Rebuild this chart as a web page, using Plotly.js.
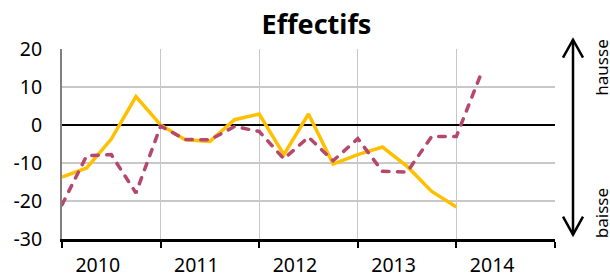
<!DOCTYPE html>
<html>
<head>
<meta charset="utf-8">
<script src="https://cdn.plot.ly/plotly-3.0.1.min.js"></script>
<style>
html,body{margin:0;padding:0;background:#fff;}
#chart{width:610px;height:274px;}
.scatterlayer .trace:nth-child(2) .js-line{stroke-linecap:round;}
</style>
</head>
<body>
<div id="chart"></div>
<script>
// Quarterly periods (index 0 = 2010 T1)
const quarters = ['2010T1','2010T2','2010T3','2010T4','2011T1','2011T2','2011T3','2011T4',
                  '2012T1','2012T2','2012T3','2012T4','2013T1','2013T2','2013T3','2013T4',
                  '2014T1','2014T2'];
const yearLabels = ['2010','2011','2012','2013','2014'];
// Series 1 (solid gold line)
const serieA = [-13.7, -11.3, -3.7, 7.5, 0, -3.9, -4.3, 1.4, 2.9, -7.8, 2.9, -10.3, -7.8, -5.8, -10.9, -17.5, -21.6];
// Series 2 (dashed red line)
const serieB = [-21.0, -8.1, -7.8, -17.9, -0.3, -3.8, -3.9, -0.4, -1.7, -8.9, -3.2, -9.4, -3.6, -12.2, -12.4, -3.0, -3.0, 13.5];
const yTicks = [-30, -20, -10, 0, 10, 20];

const xA = serieA.map((v, i) => i);
const xB = serieB.map((v, i) => i);
const yearStarts = yearLabels.map((y, k) => k * 4);
const gridX = yearStarts.concat([yearLabels.length * 4]);
const labelX = yearStarts.map(v => v + 1.45);

const FONT = 'Noto Sans, Open Sans, sans-serif';

const traces = [
  {x: xA, y: serieA, type: 'scatter', mode: 'lines',
   line: {color: '#FFC000', width: 3.5}, hoverinfo: 'skip', showlegend: false},
  {x: xB, y: serieB, type: 'scatter', mode: 'lines',
   line: {color: '#B4486E', width: 3.5, dash: '6.5px,8.5px'}, hoverinfo: 'skip', showlegend: false}
];

function px2px(px){ return (px - 62) / 493; }
function py2py(py){ return (239.3 - py) / 190; }

const ax = 573;
const shapes = [
  {type: 'line', xref: 'paper', yref: 'paper', x0: px2px(ax), x1: px2px(ax), y0: py2py(40), y1: py2py(235),
   line: {color: '#000', width: 2.5}},
  {type: 'path', xref: 'paper', yref: 'paper',
   path: `M ${px2px(ax-10)} ${py2py(58)} L ${px2px(ax)} ${py2py(40)} L ${px2px(ax+10)} ${py2py(58)}`,
   line: {color: '#000', width: 2.5}},
  {type: 'path', xref: 'paper', yref: 'paper',
   path: `M ${px2px(ax-10)} ${py2py(217)} L ${px2px(ax)} ${py2py(235)} L ${px2px(ax+10)} ${py2py(217)}`,
   line: {color: '#000', width: 2.5}}
];

const annotations = [
  {text: 'hausse', xref: 'paper', yref: 'paper', x: px2px(601.5), y: py2py(68.5), xanchor: 'center', yanchor: 'middle',
   textangle: -90, showarrow: false, font: {family: FONT, size: 17, color: '#000'}},
  {text: 'baisse', xref: 'paper', yref: 'paper', x: px2px(601.5), y: py2py(214), xanchor: 'center', yanchor: 'middle',
   textangle: -90, showarrow: false, font: {family: FONT, size: 17, color: '#000'}}
];

const layout = {
  width: 610, height: 274,
  margin: {l: 62, r: 55, t: 49, b: 35, pad: 0},
  paper_bgcolor: '#fff', plot_bgcolor: '#fff',
  font: {family: FONT, size: 19.5, color: '#000'},
  title: {text: '<b>Effectifs</b>', font: {family: FONT, size: 27, color: '#000'},
          x: px2px(316.5), xref: 'paper', xanchor: 'center', y: 1 - 25 / 274, yref: 'container', yanchor: 'middle'},
  xaxis: {range: [0, 20], tickvals: gridX, ticktext: gridX.map(() => ''), showgrid: true,
          gridcolor: '#c8c8c8', gridwidth: 1.3, zeroline: false,
          showline: true, linecolor: '#000', linewidth: 2.5,
          ticks: 'outside', ticklen: 6, tickwidth: 2, tickcolor: '#000', fixedrange: true},
  xaxis2: {range: [0, 20], overlaying: 'x', anchor: 'y', side: 'bottom',
           tickvals: labelX, ticktext: yearLabels, showgrid: false, zeroline: false, showline: false,
           ticks: '', ticklabelstandoff: 12, tickfont: {family: FONT, size: 19.5, color: '#000'}},
  yaxis: {range: [-30, 20], tickvals: yTicks, ticktext: yTicks.map(String), showgrid: true,
          gridcolor: '#c8c8c8', gridwidth: 1.3,
          zeroline: true, zerolinecolor: '#000', zerolinewidth: 2,
          showline: true, linecolor: '#808080', linewidth: 2,
          ticks: '', ticklabelstandoff: 14, tickfont: {family: FONT, size: 19.5, color: '#000'}},
  shapes: shapes,
  annotations: annotations,
  showlegend: false
};

// dummy trace to activate xaxis2
traces.push({x: [0], y: [null], xaxis: 'x2', yaxis: 'y', type: 'scatter', mode: 'lines', showlegend: false, hoverinfo: 'skip'});

Plotly.newPlot('chart', traces, layout, {staticPlot: true, displayModeBar: false});
</script>
</body>
</html>
